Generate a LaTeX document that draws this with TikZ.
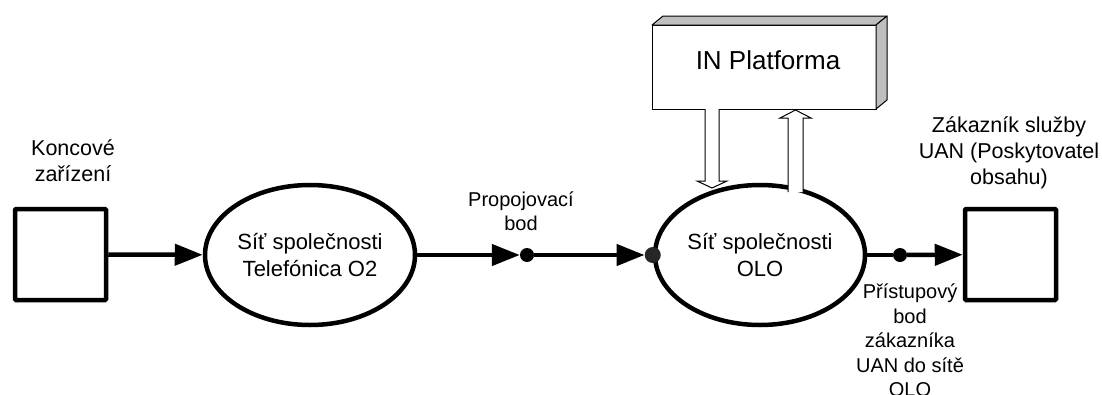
\documentclass[tikz,border=0pt]{standalone}
\usepackage{fontspec}
\setmainfont{Liberation Sans}
\usetikzlibrary{shapes.geometric,arrows.meta}
\begin{document}
\begin{tikzpicture}[x=1pt,y=-1pt,
  box/.style={draw,line width=4.5pt,rounded corners=1pt,minimum width=91pt,minimum height=91pt,inner sep=0pt},
  net/.style={draw,ellipse,fill=white,line width=4.5pt,minimum width=210pt,minimum height=140pt,inner sep=0pt,align=center,font=\fontsize{22}{27}\selectfont},
  dot/.style={circle,fill=black,inner sep=0pt,minimum size=14pt},
  lbl/.style={align=center,inner sep=0pt,font=\fontsize{20}{24.5}\selectfont},
  tlbl/.style={align=center,inner sep=0pt,font=\fontsize{21.5}{26}\selectfont},
  conn/.style={line width=4.5pt,-{Triangle[length=28pt,width=21pt]}},
  wire/.style={line width=4.5pt},
  face/.style={draw=black,fill=black!25,line width=1pt,line join=round},
  blockarrow/.style={draw=black,fill=white,line width=1pt},
]
\useasboundingbox (0,0) rectangle (1102,394);

% platform box (3D)
\node[draw,fill=white,line width=1pt,outer sep=0pt,minimum width=224pt,minimum height=84pt,inner sep=0pt] (in) at (764,67) {};
\filldraw[face] (in.north west) -- ([shift={(11,-9)}]in.north west) -- ([shift={(11,-9)}]in.north east) -- (in.north east) -- cycle;
\filldraw[face] (in.north east) -- ([shift={(11,-9)}]in.north east) -- ([shift={(11,-9)}]in.south east) -- (in.south east) -- cycle;
\node[font=\fontsize{26}{30}\selectfont,inner sep=0pt] (inlbl) at (768,60) {IN Platforma};

% main nodes
\node[box] (term) at (60.5,254.5) {};
\node[box] (cust) at (1010.5,254.5) {};
\node[net] (o2) at (310,255) {Síť společnosti\\Telefónica O2};
\node[net] (olo) at (760,255) {Síť společnosti\\OLO};
\node[dot] (ic) at (527,255) {};
\node[dot,fill=black!85,minimum size=16pt] (oloin) at (olo.west) {};
\node[dot] (ap) at (900,255) {};

% connectors
\draw[conn] (term) -- (o2);
\draw[conn] (o2) -- (ic);
\draw[conn] (ic) -- (oloin);
\draw[wire] (olo) -- (ap);
\draw[conn] (ap) -- (cust);

% block arrows between platform and OLO network
\filldraw[blockarrow] (705,109) -- (705,181) -- (697,181) -- (712,188) -- (727,181) -- (719,181) -- (719,109);
\filldraw[blockarrow] (788,192) -- (788,118) -- (780,118) -- (795.5,110) -- (811,118) -- (803,118) -- (803,192);

% labels
\node[tlbl] (termlbl) at (73,161) {Koncové\\zařízení};
\node[tlbl] (custlbl) at (1009,153) {Zákazník služby\\UAN (Poskytovatel\\obsahu)};
\node[lbl] (iclbl) at (521,211) {Propojovací\\bod};
\node[lbl,anchor=north] (aplbl) at (910,284) {Přístupový\\bod\\zákazníka\\UAN do sítě\\OLO};
\end{tikzpicture}
\end{document}
